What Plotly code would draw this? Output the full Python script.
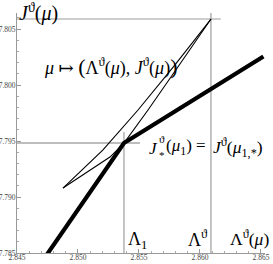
import plotly.graph_objects as go

# ---- data ----
thick_x = [2.8469, 2.85377, 2.8652]
thick_y = [7.78399, 7.79482, 7.80255]

upper_x = [2.84877, 2.85205, 2.85492, 2.85795, 2.8609]
upper_y = [7.7908, 7.7942, 7.79777, 7.80179, 7.80589]

lower_x = [2.84877, 2.85057, 2.85262, 2.85377, 2.85574, 2.85836, 2.8609]
lower_y = [7.7908, 7.7921, 7.79357, 7.79482, 7.79777, 7.80188, 7.80589]

lam1, jstar = 2.85377, 7.79482
lamth, jth = 2.8609, 7.80589

xrange_ = [2.845, 2.86533]
yrange_ = [7.785, 7.80643]
xticks = [2.845, 2.850, 2.855, 2.860, 2.865]
yticks = [7.785, 7.790, 7.795, 7.800, 7.805]

SERIF = "Liberation Serif, DejaVu Serif, serif"
fig = go.Figure()

gray_light = "#bdbdbd"
gray_dark = "#8a8a8a"
# reference segments
fig.add_trace(go.Scatter(x=[xrange_[0], 2.8617], y=[jth, jth], mode="lines",
                         line=dict(color=gray_light, width=1.6), hoverinfo="skip"))
fig.add_trace(go.Scatter(x=[lamth, lamth], y=[yrange_[0], yrange_[1]], mode="lines",
                         line=dict(color=gray_dark, width=1), hoverinfo="skip"))
fig.add_trace(go.Scatter(x=[xrange_[0], 2.85508], y=[jstar, jstar], mode="lines",
                         line=dict(color=gray_light, width=1.8), hoverinfo="skip"))
fig.add_trace(go.Scatter(x=[lam1, lam1], y=[yrange_[0], 7.7958], mode="lines",
                         line=dict(color=gray_dark, width=1), hoverinfo="skip"))

# curves
fig.add_trace(go.Scatter(x=upper_x, y=upper_y, mode="lines",
                         line=dict(color="black", width=1.1), hoverinfo="skip"))
fig.add_trace(go.Scatter(x=lower_x, y=lower_y, mode="lines",
                         line=dict(color="black", width=1.1), hoverinfo="skip"))
fig.add_trace(go.Scatter(x=thick_x, y=thick_y, mode="lines",
                         line=dict(color="black", width=4.2), hoverinfo="skip"))

def ann(x, y, text, size, xanchor="center", yanchor="middle"):
    fig.add_annotation(x=x, y=y, xref="paper", yref="paper", text=text, showarrow=False,
                       font=dict(family=SERIF, size=size, color="black"),
                       xanchor=xanchor, yanchor=yanchor, borderpad=0)

# paper coords: plot area (window px) x 17..265, y 13..253
def px(xp):
    return (xp - 17) / 248.0
def py(yp):
    return (253 - yp) / 240.0

BIGL = "<span style='font-size:22px'>(</span>"
BIGR = "<span style='font-size:22px'>)</span>"
ann(px(18), py(12), "<i>J</i><sup>ϑ</sup>(<i>μ</i>)", 20, "left")
ann(px(43), py(66), "<i>μ</i> ↦ " + BIGL + "Λ<sup>ϑ</sup>(<i>μ</i>), <i>J</i><sup>ϑ</sup>(<i>μ</i>)" + BIGR,
    18, "left")
# J_*^θ(μ1) = J^θ(μ1,*)
ann(px(148), py(148), "<i>J</i>", 17, "left")
ann(px(158), py(139), "ϑ", 11, "left")
ann(px(158), py(155), "*", 11, "left")
ann(px(165), py(147), "(<i>μ</i><sub>1</sub>) =", 17, "left")
ann(px(212), py(147), "<i>J</i><sup>ϑ</sup>(<i>μ</i><sub>1,*</sub>)", 17.5, "left")
ann(px(127), py(240), "Λ<sub>1</sub>", 18, "left")
ann(px(187), py(238), "Λ<sup>ϑ</sup>", 18, "left")
ann(px(229), py(238), "Λ<sup>ϑ</sup>(<i>μ</i>)", 17.5, "left")

axis_common = dict(showgrid=False, zeroline=False, showline=True, linecolor="#999999",
                   linewidth=1, ticks="inside", ticklen=4, tickcolor="#999999",
                   automargin=False,
                   tickfont=dict(family=SERIF, size=7.5, color="#444444"),
                   minor=dict(ticks="inside", ticklen=2, tickcolor="#aaaaaa", dtick=0.001))
fig.update_xaxes(range=xrange_, tickvals=xticks, ticktext=[f"{v:.3f}" for v in xticks],
                 ticklabelstandoff=-3, **axis_common)
fig.update_yaxes(range=yrange_, tickvals=yticks, ticktext=[f"{v:.3f}" for v in yticks],
                 ticklabelstandoff=-1, **axis_common)

fig.update_layout(width=273, height=264, margin=dict(l=17, r=8, t=13, b=11),
                  paper_bgcolor="white", plot_bgcolor="white", showlegend=False)
# remove the default page margin so the figure sits at the window's corner
fig.write_html("out.html", config={"displayModeBar": False},
               post_script="document.body.style.margin='0';document.body.style.overflow='hidden';")
